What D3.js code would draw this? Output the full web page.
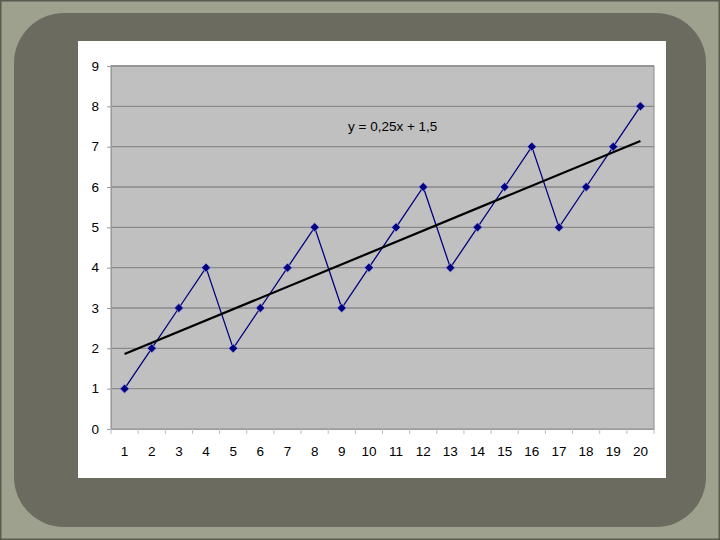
<!DOCTYPE html>
<html>
<head>
<meta charset="utf-8">
<script src="https://cdn.jsdelivr.net/npm/d3@7/dist/d3.min.js"></script>
<style>
  html, body { margin: 0; padding: 0; background: #9fa18f; }
  svg { display: block; font-family: "Liberation Sans", Arial, sans-serif; }
</style>
</head>
<body>
<div id="chart"></div>
<script>
const categories = d3.range(1, 21).map(String);
const values = [1, 2, 3, 4, 2, 3, 4, 5, 3, 4, 5, 6, 4, 5, 6, 7, 5, 6, 7, 8];
const yTicks = [0, 1, 2, 3, 4, 5, 6, 7, 8, 9];
const trendLabel = 'y = 0,25x + 1,5';

const W = 720, H = 540;
const svg = d3.select('#chart').append('svg').attr('width', W).attr('height', H);

// slide frame
svg.append('rect').attr('width', W).attr('height', H).attr('fill', '#9fa18f');
svg.append('rect').attr('x', 0.5).attr('y', 0.5).attr('width', W - 1).attr('height', H - 1)
  .attr('fill', 'none').attr('stroke', '#5a5b4f').attr('stroke-width', 2);
svg.append('rect').attr('x', 14).attr('y', 13).attr('width', 692).attr('height', 514)
  .attr('rx', 50).attr('fill', '#6b6c5f');

// chart area
svg.append('rect').attr('x', 78).attr('y', 41).attr('width', 588).attr('height', 437).attr('fill', '#fff');

const plot = { left: 111, top: 66, right: 654, bottom: 429 };
const x = d3.scaleBand().domain(categories).range([plot.left, plot.right]);
const y = d3.scaleLinear().domain([0, 9]).range([plot.bottom, plot.top]);

svg.append('rect').attr('x', plot.left).attr('y', plot.top)
  .attr('width', plot.right - plot.left).attr('height', plot.bottom - plot.top)
  .attr('fill', '#c0c0c0').attr('stroke', '#8c8c8c').attr('stroke-width', 1);

// gridlines
svg.append('g').selectAll('line').data(yTicks.slice(1)).enter().append('line')
  .attr('x1', plot.left).attr('x2', plot.right)
  .attr('y1', d => y(d)).attr('y2', d => y(d))
  .attr('stroke', '#8a8a8a').attr('stroke-width', 1.3);

// y axis
const yAxis = svg.append('g').attr('transform', `translate(${plot.left},0)`)
  .call(d3.axisLeft(y).tickValues(yTicks).tickSize(4).tickPadding(8));
yAxis.select('.domain').attr('stroke', '#9a9a9a');
yAxis.selectAll('.tick line').attr('stroke', '#9a9a9a');
yAxis.selectAll('text').attr('font-size', 13.5).attr('fill', '#000');

// x axis with ticks between categories
const xAxis = svg.append('g').attr('transform', `translate(0,${plot.bottom})`)
  .call(d3.axisBottom(x).tickSize(0).tickPadding(17));
xAxis.select('.domain').attr('stroke', '#9a9a9a');
xAxis.selectAll('text').attr('font-size', 13.5).attr('fill', '#000');
xAxis.selectAll('line.sep').data(categories.concat(['end'])).enter().append('line')
  .attr('class', 'sep')
  .attr('x1', (d, i) => plot.left + i * x.bandwidth()).attr('x2', (d, i) => plot.left + i * x.bandwidth())
  .attr('y1', 0).attr('y2', 5).attr('stroke', '#bdbdbd');

// data line
const pts = values.map((v, i) => [x(categories[i]) + x.bandwidth() / 2, y(v)]);
svg.append('path').datum(pts).attr('d', d3.line())
  .attr('fill', 'none').attr('stroke', '#000080').attr('stroke-width', 1.3);

// markers
svg.append('g').selectAll('path').data(pts).enter().append('path')
  .attr('transform', d => `translate(${d[0]},${d[1]})`)
  .attr('d', d3.symbol(d3.symbolDiamond2, 52))
  .attr('fill', '#000080').attr('stroke', '#9a9ad8').attr('stroke-width', 0.8);

// least squares trendline
const xs = values.map((v, i) => i + 1);
const mx = d3.mean(xs), my = d3.mean(values);
const slope = d3.sum(xs, (xv, i) => (xv - mx) * (values[i] - my)) / d3.sum(xs, xv => (xv - mx) ** 2);
const icpt = my - slope * mx;
const tx = n => x(categories[n - 1]) + x.bandwidth() / 2;
svg.append('line')
  .attr('x1', tx(1)).attr('y1', y(icpt + slope * 1))
  .attr('x2', tx(20)).attr('y2', y(icpt + slope * 20))
  .attr('stroke', '#000').attr('stroke-width', 2.2);

svg.append('text').attr('x', 348).attr('y', 131).attr('font-size', 13.5).attr('fill', '#000')
  .text(trendLabel);
</script>
</body>
</html>
